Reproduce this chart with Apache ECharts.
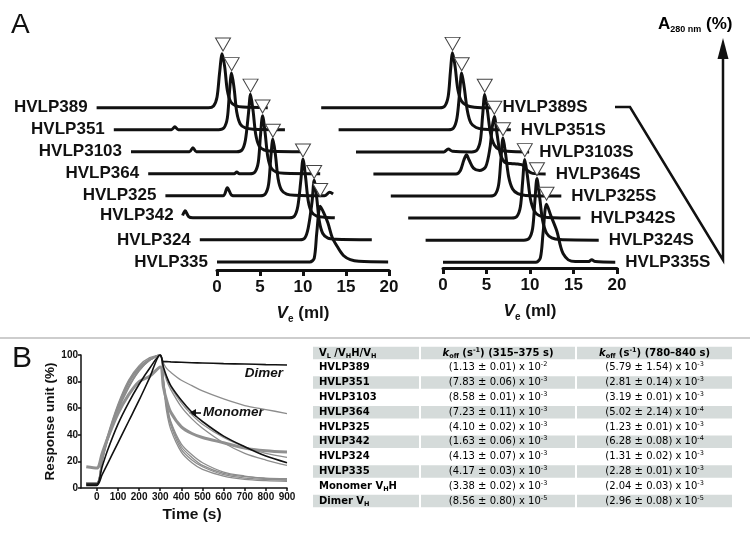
<!DOCTYPE html>
<html>
<head>
<meta charset="utf-8">
<script src="https://cdn.jsdelivr.net/npm/echarts@6/dist/echarts.min.js"></script>
<style>
  html, body { margin: 0; background: #fff; }
  #chart { width: 750px; height: 538px; }
</style>
</head>
<body>
<div id="chart"></div>
<script>
// ---- panel A: SEC elution profiles, [Ve (ml), A280 (%)], top row first ----
const namesA = ['HVLP389', 'HVLP351', 'HVLP3103', 'HVLP364', 'HVLP325', 'HVLP342', 'HVLP324', 'HVLP335'];
const namesS = ['HVLP389S', 'HVLP351S', 'HVLP3103S', 'HVLP364S', 'HVLP325S', 'HVLP342S', 'HVLP324S', 'HVLP335S'];

const profA = [
  [[0,0],[13.0,0],[13.6,3],[14.0,18],[14.3,60],[14.6,93],[14.9,70],[15.2,30],[15.6,10],[16.2,3],[17,1],[19.9,0]],
  [[0,0],[6.7,0],[7.1,5],[7.5,0],[12.2,0],[12.8,3],[13.2,20],[13.45,65],[13.7,98],[14.0,70],[14.3,30],[14.7,10],[15.3,3],[16.2,1],[19.9,0]],
  [[0,0],[6.8,0],[7.2,7],[7.6,0],[12.3,0],[12.9,3],[13.3,20],[13.65,65],[13.9,99],[14.2,70],[14.5,30],[14.9,10],[15.5,3],[16.4,1],[19.9,0]],
  [[0,0],[10.0,0],[10.3,3],[10.6,0],[11.8,0],[12.4,3],[12.8,20],[13.05,65],[13.3,100],[13.6,70],[13.9,30],[14.3,10],[14.9,3],[15.8,1],[20,0]],
  [[0,0],[6.7,0],[7.2,14],[7.7,1],[8.2,0],[11.0,0],[11.6,3],[12.0,20],[12.25,65],[12.5,98],[12.8,70],[13.1,30],[13.5,10],[14.1,3],[15,1],[18.5,0],[19.1,6],[19.5,3]],
  [[0,4],[0.3,12],[0.7,2],[1.2,0],[12.4,0],[13.0,3],[13.4,20],[13.75,65],[14.0,101],[14.3,70],[14.6,30],[15.0,10],[15.6,3],[16.5,1],[17.7,0]],
  [[0,0],[11.6,0],[12.2,3],[12.6,20],[13.05,65],[13.3,103],[13.6,72],[13.9,32],[14.3,11],[14.9,3],[15.8,1],[20,0]],
  [[0,0],[10.8,0],[11.3,6],[11.6,50],[12,96],[12.4,85],[12.9,67],[13.4,42],[14,26],[14.7,11],[15.5,4],[16.5,1],[19.9,0]]
];
const peakA = [[14.7,97],[13.7,101],[13.9,102],[13.3,104],[12.5,100],[14.0,104],[13.3,105],[12.0,112]];

const profS = [
  [[0,0],[13.6,0],[14.2,3],[14.6,20],[14.85,62],[15.1,95],[15.4,70],[15.7,32],[16.1,12],[16.7,4],[17.6,1],[19.7,0]],
  [[0,0],[12.6,0],[13.2,3],[13.6,20],[13.9,62],[14.15,98],[14.45,72],[14.8,33],[15.2,12],[15.8,4],[16.7,1],[19.8,0]],
  [[0,0],[10.1,0],[10.6,5],[11.1,1],[13.3,0],[13.9,3],[14.3,20],[14.55,62],[14.8,99],[15.1,72],[15.45,33],[15.9,12],[16.5,4],[17.4,1],[19.9,0]],
  [[0,0],[9.5,0],[10.0,6],[10.4,24],[10.7,33],[11.0,24],[11.5,10],[12.2,6],[12.9,12],[13.4,45],[13.65,80],[13.9,99],[14.2,70],[14.6,34],[15.1,20],[15.8,18],[16.6,17],[17.2,15],[17.7,6],[18.3,1],[19.8,0]],
  [[0,0],[11.4,0],[12.0,3],[12.4,20],[12.65,62],[12.9,100],[13.2,72],[13.55,33],[14.0,12],[14.6,4],[15.5,1],[19.6,0]],
  [[0,0],[11.9,0],[12.5,3],[12.9,20],[13.15,62],[13.4,101],[13.7,73],[14.05,33],[14.5,12],[15.1,4],[16,1],[19.8,0]],
  [[0,0],[11.3,0],[11.9,3],[12.3,20],[12.55,65],[12.8,106],[13.1,75],[13.45,34],[13.9,12],[14.5,4],[15.4,1],[19.9,0]],
  [[0,0],[10.7,0],[11.2,8],[11.5,50],[11.9,100],[12.4,80],[13.1,53],[13.5,28],[13.8,15],[14.4,4],[15.2,1],[16.7,1],[17.1,4],[17.5,1],[19.8,0]]
];
const peakS = [[15.1,98],[14.15,101],[14.8,102],[13.9,102],[12.9,103],[13.4,105],[12.8,110],[11.9,106]];

const veTicks = [0, 5, 10, 15, 20];

// ---- panel B: SPR sensorgrams, response (%) at common times (s) ----
const bTime    = [-50, 0, 25, 50, 100, 150, 200, 250, 300, 315, 330, 350, 400, 450, 500, 600, 700, 800, 900];
const bMonomer = [3, 3, 16, 28, 48, 64, 78, 90, 100, 91, 84, 77, 66, 57, 50, 39, 31, 24, 19];
const bDimer   = [2, 2, 10, 18, 34, 50, 66, 83, 100, 95, 95, 94.8, 94.5, 94.2, 94, 93.5, 93.2, 92.8, 92.5];
const bGray = [
  [4, 4, 22, 37, 60, 76, 88, 96, 100, 94, 90, 87, 81, 77, 73, 67, 62, 59, 56],
  [3, 3, 20, 35, 58, 75, 88, 96, 100, 90, 83, 76, 64, 55, 48, 38, 31, 26, 23],
  [4, 4, 21, 36, 59, 76, 89, 96, 100, 89, 81, 74, 61, 52, 45, 34, 26, 21, 17],
  [3, 3, 22, 38, 62, 80, 91, 97, 100, 78, 58, 44, 27, 19, 14, 9, 6.5, 5.5, 5],
  [2, 2, 21, 37, 61, 79, 90, 97, 100, 80, 61, 47, 29, 21, 16, 10, 7.5, 6.5, 6],
  [3, 3, 23, 39, 63, 81, 92, 98, 100, 81, 63, 49, 31, 23, 17, 11, 8.5, 7.5, 7],
  [4, 4, 20, 36, 60, 78, 90, 96, 100, 82, 64, 50, 33, 25, 19, 12, 9, 7, 6]
];
const bNoisy   = [16, 15, 26, 37, 56, 70, 80, 84, 91, 76, 66, 57, 46, 41, 38, 34, 30, 28, 27];
const bTicks = [0, 100, 200, 300, 400, 500, 600, 700, 800, 900];

// ---- table ----  (_H marks a subscript H)
const tblRows = ['HVLP389', 'HVLP351', 'HVLP3103', 'HVLP364', 'HVLP325', 'HVLP342', 'HVLP324', 'HVLP335', 'Monomer V_HH', 'Dimer V_H'];
const koffEarly = ['1.13 ± 0.01', '7.83 ± 0.06', '8.58 ± 0.01', '7.23 ± 0.11', '4.10 ± 0.02', '1.63 ± 0.06', '4.13 ± 0.07', '4.17 ± 0.03', '3.38 ± 0.02', '8.56 ± 0.80'];
const expEarly  = [-2, -3, -3, -3, -3, -3, -3, -3, -3, -5];
const koffLate  = ['5.79 ± 1.54', '2.81 ± 0.14', '3.19 ± 0.01', '5.02 ± 2.14', '1.23 ± 0.01', '6.28 ± 0.08', '1.31 ± 0.02', '2.28 ± 0.01', '2.04 ± 0.03', '2.96 ± 0.08'];
const expLate   = [-3, -3, -3, -4, -3, -4, -3, -3, -3, -5];

// waterfall offsets per row
const SHIFT = 2;
const LIFT = 38;
const FONT = "'Liberation Sans', Arial, sans-serif";

function stack(prof, k) {
  return prof.map(p => [p[0] - SHIFT * k, p[1] + LIFT * k]);
}

const chart = echarts.init(document.getElementById('chart'));

const series = [];

function addPanel(names, profs, peaks, xi, labelsRight) {
  names.forEach((name, i) => {
    const k = names.length - 1 - i;
    const s = {
      name: name,
      type: 'line',
      xAxisIndex: xi, yAxisIndex: xi,
      data: stack(profs[i], k),
      showSymbol: false,
      smooth: 0.3,
      silent: true,
      lineStyle: { color: '#111', width: 3 },
      z: 2
    };
    if (labelsRight) {
      s.endLabel = {
        show: true, formatter: name, distance: 10,
        fontFamily: FONT, fontWeight: 'bold', fontSize: 17, color: '#111'
      };
    }
    series.push(s);
  });
  // peak markers
  series.push({
    type: 'scatter',
    xAxisIndex: xi, yAxisIndex: xi,
    data: peaks.map((p, i) => stack([p], names.length - 1 - i)[0]),
    symbol: 'triangle',
    symbolRotate: 180,
    symbolSize: [15, 13],
    symbolOffset: [0, -7],
    itemStyle: { color: '#fff', borderColor: '#444', borderWidth: 1, opacity: 1 },
    silent: true,
    z: 5
  });
  if (!labelsRight) {
    series.push({
      type: 'scatter',
      xAxisIndex: xi, yAxisIndex: xi,
      data: names.map((n, i) => ({ name: n, value: stack([profs[i][0]], names.length - 1 - i)[0] })),
      symbolSize: 0,
      itemStyle: { opacity: 1 },
      label: {
        show: true, position: 'left', distance: 9, formatter: '{b}',
        fontFamily: FONT, fontWeight: 'bold', fontSize: 17, color: '#111', opacity: 1
      },
      silent: true
    });
  }
}

addPanel(namesA, profA, peakA, 0, false);
addPanel(namesS, profS, peakS, 2, true);

// panel B curves
bGray.forEach(vals => {
  series.push({
    type: 'line', xAxisIndex: 4, yAxisIndex: 4,
    data: bTime.map((t, j) => [t, vals[j]]),
    showSymbol: false, smooth: 0.3, silent: true,
    lineStyle: { color: '#8d8d8d', width: 1.3 }
  });
});
series.push({
  type: 'line', xAxisIndex: 4, yAxisIndex: 4,
  data: bTime.map((t, j) => [t, bNoisy[j]]),
  showSymbol: false, smooth: 0.3, silent: true,
  lineStyle: { color: '#909090', width: 3 }
});
[bMonomer, bDimer].forEach(vals => {
  series.push({
    type: 'line', xAxisIndex: 4, yAxisIndex: 4,
    data: bTime.map((t, j) => [t, vals[j]]),
    showSymbol: false, smooth: 0.3, silent: true,
    lineStyle: { color: '#111', width: 1.6 }, z: 3
  });
});

const veName = {
  name: '{v|V}{e|e}{t| (ml)}',
  nameLocation: 'middle',
  nameGap: 32,
  nameTextStyle: {
    rich: {
      v: { fontFamily: FONT, fontWeight: 'bold', fontStyle: 'italic', fontSize: 17, color: '#111', lineHeight: 22 },
      e: { fontFamily: FONT, fontWeight: 'bold', fontSize: 10, color: '#111', verticalAlign: 'bottom', lineHeight: 22 },
      t: { fontFamily: FONT, fontWeight: 'bold', fontSize: 17, color: '#111', lineHeight: 22 }
    }
  }
};

function veAxis(gi) {
  return Object.assign({
    gridIndex: gi, type: 'value', min: 0, max: 20, interval: 5,
    axisLine: { lineStyle: { color: '#111', width: 3 } },
    axisTick: { length: 6, lineStyle: { color: '#111', width: 3 } },
    axisLabel: { fontFamily: FONT, fontWeight: 'bold', fontSize: 17, color: '#111', margin: 9, customValues: veTicks },
    splitLine: { show: false }
  }, veName);
}

// table graphic
const TBL_X = [313, 421, 577];
const TBL_W = [106, 154, 155];
const TBL_Y0 = 353;
const ROW_H = 14.8;
const BAND_H = 12.5;
const tblRich = {
  n: { fontFamily: 'DejaVu Sans', fontSize: 10, color: '#333', lineHeight: 13 },
  sup: { fontFamily: 'DejaVu Sans', fontSize: 6.5, color: '#333', verticalAlign: 'top', lineHeight: 13 },
  b: { fontFamily: 'DejaVu Sans', fontSize: 10, fontWeight: 'bold', color: '#222', lineHeight: 13 },
  bi: { fontFamily: 'DejaVu Sans', fontSize: 10, fontWeight: 'bold', fontStyle: 'italic', color: '#222', lineHeight: 13 },
  bs: { fontFamily: 'DejaVu Sans', fontSize: 6.5, fontWeight: 'bold', color: '#222', verticalAlign: 'bottom', lineHeight: 13 },
  bsup: { fontFamily: 'DejaVu Sans', fontSize: 6.5, fontWeight: 'bold', color: '#222', verticalAlign: 'top', lineHeight: 13 }
};
const tblHead = [
  '{b|V}{bs|L}{b| /V}{bs|H}{b|H/V}{bs|H}',
  '{bi|k}{bs|off}{b| (s}{bsup|-1}{b|) (315–375 s)}',
  '{bi|k}{bs|off}{b| (s}{bsup|-1}{b|) (780–840 s)}'
];
const graphics = [];
function cellText(text, c, cy) {
  const left = c === 0;
  return {
    type: 'text', silent: true, z: 10,
    style: {
      text: text, rich: tblRich,
      x: left ? TBL_X[0] + 6 : TBL_X[c] + TBL_W[c] / 2,
      y: cy,
      align: left ? 'left' : 'center', textAlign: left ? 'left' : 'center',
      verticalAlign: 'middle', textVerticalAlign: 'middle'
    }
  };
}
for (let r = 0; r <= tblRows.length; r++) {
  const cy = TBL_Y0 + r * ROW_H;
  if (r % 2 === 0) {
    for (let c = 0; c < 3; c++) {
      graphics.push({
        type: 'rect', silent: true, z: 9,
        shape: { x: TBL_X[c], y: cy - BAND_H / 2, width: TBL_W[c], height: BAND_H },
        style: { fill: '#d5dbda' }
      });
    }
  }
  if (r === 0) {
    tblHead.forEach((t, c) => graphics.push(cellText(t, c, cy)));
  } else {
    const i = r - 1;
    graphics.push(cellText('{b|' + tblRows[i].replace('_H', '}{bs|H}{b|') + '}', 0, cy));
    graphics.push(cellText('{n|(' + koffEarly[i] + ') x 10}{sup|' + expEarly[i] + '}', 1, cy));
    graphics.push(cellText('{n|(' + koffLate[i] + ') x 10}{sup|' + expLate[i] + '}', 2, cy));
  }
}

// panel letters, separator, A280 arrow, annotations
graphics.push(
  { type: 'text', silent: true, style: { text: 'A', x: 11, y: 25, font: '28px ' + FONT, fill: '#111', verticalAlign: 'middle', textVerticalAlign: 'middle' } },
  { type: 'text', silent: true, style: { text: 'B', x: 12, y: 359, font: '30px ' + FONT, fill: '#111', verticalAlign: 'middle', textVerticalAlign: 'middle' } },
  { type: 'line', silent: true, shape: { x1: 0, y1: 338, x2: 750, y2: 338 }, style: { stroke: '#bdbdbd', lineWidth: 1.5 } },
  { type: 'polyline', silent: true, shape: { points: [[615, 107], [630, 107], [723, 260], [723, 55]] }, style: { stroke: '#111', lineWidth: 2.5, fill: null } },
  { type: 'polygon', silent: true, shape: { points: [[723, 38], [717.5, 59], [728.5, 59]] }, style: { fill: '#111' } },
  {
    type: 'text', silent: true,
    style: {
      text: '{a|A}{s|280 nm}{a| (%)}', x: 658, y: 24,
      verticalAlign: 'middle', textVerticalAlign: 'middle',
      rich: {
        a: { fontFamily: FONT, fontWeight: 'bold', fontSize: 17, color: '#111', lineHeight: 20 },
        s: { fontFamily: FONT, fontWeight: 'bold', fontSize: 9, color: '#111', verticalAlign: 'bottom', lineHeight: 20 }
      }
    }
  },
  { type: 'text', silent: true, style: { text: 'Dimer', x: 283, y: 373, font: 'italic bold 13.5px ' + FONT, fill: '#111', align: 'right', textAlign: 'right', verticalAlign: 'middle', textVerticalAlign: 'middle' } },
  { type: 'text', silent: true, style: { text: 'Monomer', x: 203, y: 412, font: 'italic bold 13.5px ' + FONT, fill: '#111', verticalAlign: 'middle', textVerticalAlign: 'middle' } },
  { type: 'line', silent: true, shape: { x1: 193, y1: 413, x2: 201, y2: 413 }, style: { stroke: '#111', lineWidth: 1.6 } },
  { type: 'polygon', silent: true, shape: { points: [[189, 413], [196, 409], [196, 417]] }, style: { fill: '#111' } }
);

const option = {
  animation: false,
  backgroundColor: '#fff',
  grid: [
    { left: 79.4, top: 30, width: 309.6, height: 240 },
    { left: 217, top: 269, width: 172, height: 1 },
    { left: 303.8, top: 30, width: 313.2, height: 238 },
    { left: 443, top: 267, width: 174, height: 1 },
    { left: 81, top: 355, width: 206, height: 133 }
  ],
  xAxis: [
    { gridIndex: 0, type: 'value', min: -16, max: 20, show: false },
    veAxis(1),
    { gridIndex: 2, type: 'value', min: -16, max: 20, show: false },
    veAxis(3),
    {
      gridIndex: 4, type: 'value', min: -75, max: 900,
      axisLine: { onZero: false, lineStyle: { color: '#111', width: 1.5 } },
      axisTick: { length: 3, customValues: bTicks, lineStyle: { color: '#111', width: 1.5 } },
      axisLabel: { customValues: bTicks, fontFamily: FONT, fontWeight: 'bold', fontSize: 10, color: '#111', margin: 4 },
      splitLine: { show: false },
      name: 'Time (s)', nameLocation: 'middle', nameGap: 19,
      nameTextStyle: { fontFamily: FONT, fontWeight: 'bold', fontSize: 15.5, color: '#111', padding: [0, 0, 0, 16] }
    }
  ],
  yAxis: [
    { gridIndex: 0, type: 'value', min: -14, max: 400, show: false },
    { gridIndex: 1, type: 'value', show: false },
    { gridIndex: 2, type: 'value', min: -10, max: 400, show: false },
    { gridIndex: 3, type: 'value', show: false },
    {
      gridIndex: 4, type: 'value', min: 0, max: 100, interval: 20,
      axisLine: { show: true, onZero: false, lineStyle: { color: '#111', width: 1.5 } },
      axisTick: { show: true, length: 3, lineStyle: { color: '#111', width: 1.5 } },
      axisLabel: { fontFamily: FONT, fontWeight: 'bold', fontSize: 10, color: '#111', margin: 3 },
      splitLine: { show: false },
      name: 'Response unit (%)', nameLocation: 'middle', nameGap: 24, nameRotate: 90,
      nameTextStyle: { fontFamily: FONT, fontWeight: 'bold', fontSize: 13.5, color: '#111' }
    }
  ],
  series: series,
  graphic: graphics
};

chart.setOption(option);
</script>
</body>
</html>
